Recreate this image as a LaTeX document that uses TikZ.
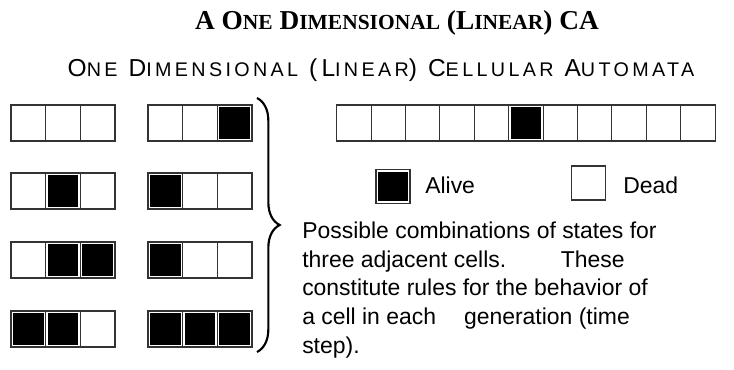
\documentclass[tikz,border=0pt]{standalone}
\usepackage{fontspec}
\setmainfont{Liberation Sans}
\newfontfamily\titlefont{Liberation Serif}
\newfontfamily\subfont[LetterSpace=17]{Liberation Sans}
\usepackage{tikz}
\usetikzlibrary{positioning,decorations.pathreplacing}

% fake small caps for the two headings
\newcommand{\tsc}[1]{{\fontsize{16.1}{16}\selectfont #1}}
\newcommand{\ssc}[1]{{\fontsize{14.8}{15}\selectfont #1}}

\begin{document}
\begin{tikzpicture}[
  x=0.75pt, y=-0.75pt,
  cell/.style={rectangle, draw=black!80, line width=0.8pt, inner sep=0pt, outer sep=0pt,
    minimum width=26pt, minimum height=27pt},
  cell0/.style={cell, fill=white},
  cell1/.style={cell, path picture={\fill[black]
      ([shift={(1.5pt,1.5pt)}]path picture bounding box.south west) rectangle
      ([shift={(-1.5pt,-1.5pt)}]path picture bounding box.north east);}},
  txt/.style={inner sep=0pt, font=\fontsize{17.2}{21.4}\selectfont},
  brc/.style={decorate, decoration={brace, amplitude=17pt}, line width=1.6pt}
]
\useasboundingbox (0,0) rectangle (734,370);

% headings
\node[anchor=base, inner sep=0pt] (title) at (397,30)
  {\titlefont\bfseries\fontsize{20.5}{22}\selectfont A O\tsc{NE} D\tsc{IMENSIONAL} (L\tsc{INEAR}) CA};
\node[anchor=base, inner sep=0pt] (subtitle) at (381,77)
  {\subfont\fontsize{18.4}{20}\selectfont O\ssc{NE} D\ssc{IMENSIONAL} (L\ssc{INEAR}) C\ssc{ELLULAR} A\ssc{UTOMATA}};

% the eight neighbourhoods, two per row
\foreach \y/\la/\lb/\lc/\ra/\rb/\rc [count=\r] in
  {123/0/0/0/0/0/1, 191/0/1/0/1/0/0, 260/0/1/1/1/0/0, 329/1/1/0/1/1/1} {
  \node[cell\la] (l\r-1) at (28.3,\y) {};
  \node[cell\lb, right=0pt of l\r-1] (l\r-2) {};
  \node[cell\lc, right=0pt of l\r-2] (l\r-3) {};
  \node[cell\ra] (r\r-1) at (165.3,\y) {};
  \node[cell\rb, right=0pt of r\r-1] (r\r-2) {};
  \node[cell\rc, right=0pt of r\r-2] (r\r-3) {};
}

\coordinate (bracetop) at (257,98);
\coordinate (bracebot) at (257,352);
\draw[brc] (bracetop) -- (bracebot);

% the linear automaton
\foreach \s [count=\i from 0] in {0,0,0,0,0,1,0,0,0,0,0}
  \node[cell\s, minimum width=25.8pt] (ca-\i) at ({353.9+34.4*\i},123) {};

% legend
\node[cell1, minimum width=25.5pt, minimum height=25pt] (alivebox) at (393,186.5) {};
\node[txt, anchor=base west] (alivelbl) at (425,194) {Alive};
\node[cell0, minimum width=25pt, minimum height=25.5pt] (deadbox) at (588.5,183) {};
\node[txt, anchor=base west] (deadlbl) at (623,194) {Dead};

\node[txt, anchor=north west, align=left] (rules) at (302,222)
  {Possible combinations of states for\\
   three adjacent cells.\hspace{41pt}These\\
   constitute rules for the behavior of\\
   a cell in each\hspace{21pt}generation (time\\
   step).};
\end{tikzpicture}
\end{document}
